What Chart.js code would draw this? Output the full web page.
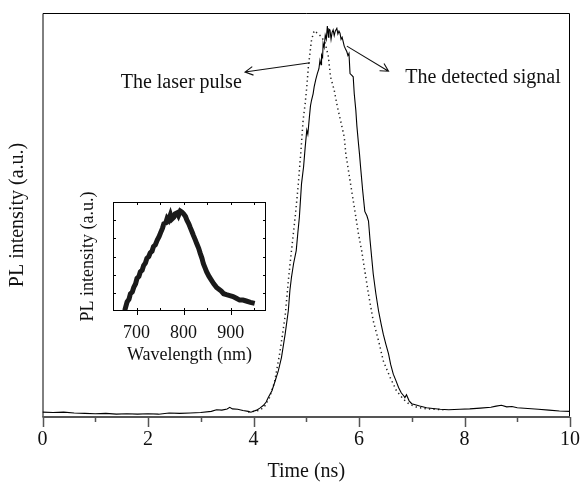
<!DOCTYPE html>
<html>
<head>
<meta charset="utf-8">
<script src="https://cdn.jsdelivr.net/npm/chart.js@4.4.1/dist/chart.umd.min.js"></script>
<style>
    html, body { margin: 0; padding: 0; background: #fff; }
    #wrap { position: relative; width: 581px; height: 484px; }
    #mainChart { position: absolute; left: 0; top: 0; }
    #insetChart { position: absolute; left: 60px; top: 190px; }
</style>
</head>
<body>
<div id="wrap">
    <canvas id="mainChart" width="581" height="484"></canvas>
    <canvas id="insetChart" width="220" height="180"></canvas>
</div>
<script>
// detected signal (solid)
const signalTime = [0, 0.2, 0.4, 0.6, 0.8, 1.0, 1.2, 1.4, 1.6, 1.8, 2.0, 2.2, 2.4, 2.6, 2.8, 3.0, 3.2, 3.3, 3.4, 3.5,
    3.55, 3.6, 3.7, 3.8, 3.9, 3.95, 4.0, 4.06, 4.12, 4.19, 4.24, 4.28, 4.35, 4.41, 4.47, 4.53, 4.6, 4.66, 4.69, 4.72,
    4.76, 4.81, 4.84, 4.87, 4.91, 4.95, 4.98, 5.01, 5.03, 5.06, 5.08, 5.1, 5.13, 5.15, 5.18, 5.21, 5.24, 5.26, 5.28, 5.29,
    5.31, 5.32, 5.34, 5.36, 5.38, 5.4, 5.42, 5.43, 5.45, 5.47, 5.49, 5.51, 5.53, 5.55, 5.58, 5.6, 5.62, 5.64, 5.66, 5.68,
    5.7, 5.72, 5.74, 5.77, 5.79, 5.81, 5.83, 5.86, 5.89, 5.91, 5.94, 5.96, 5.99, 6.01, 6.03, 6.07, 6.11, 6.15, 6.18, 6.21,
    6.27, 6.32, 6.37, 6.42, 6.46, 6.51, 6.56, 6.6, 6.65, 6.7, 6.75, 6.8, 6.85, 6.87, 6.9, 6.95, 7.0, 7.05, 7.15, 7.28,
    7.4, 7.54, 7.7, 7.91, 8.1, 8.3, 8.5, 8.6, 8.7, 8.8, 8.9, 9.0, 9.2, 9.4, 9.6, 9.8, 10];
const signal = [0.012, 0.011, 0.012, 0.010, 0.009, 0.008, 0.009, 0.007, 0.008, 0.007, 0.008, 0.007, 0.010, 0.009, 0.010, 0.011, 0.014, 0.018, 0.017, 0.020,
    0.024, 0.020, 0.019, 0.016, 0.014, 0.012, 0.014, 0.017, 0.022, 0.029, 0.037, 0.048, 0.065, 0.089, 0.114, 0.147, 0.205, 0.263, 0.313, 0.346,
    0.380, 0.412, 0.455, 0.495, 0.577, 0.620, 0.668, 0.710, 0.700, 0.743, 0.770, 0.784, 0.800, 0.817, 0.835, 0.850, 0.862, 0.883, 0.872, 0.896,
    0.890, 0.925, 0.915, 0.945, 0.935, 0.968, 0.940, 0.960, 0.958, 0.935, 0.952, 0.958, 0.944, 0.955, 0.962, 0.948, 0.955, 0.950, 0.935, 0.940,
    0.929, 0.918, 0.912, 0.904, 0.895, 0.900, 0.850, 0.846, 0.842, 0.800, 0.759, 0.720, 0.677, 0.650, 0.619, 0.560, 0.509, 0.498, 0.485, 0.437,
    0.354, 0.305, 0.263, 0.230, 0.205, 0.180, 0.156, 0.130, 0.106, 0.090, 0.073, 0.060, 0.052, 0.048, 0.055, 0.040, 0.033, 0.031, 0.027, 0.023,
    0.021, 0.019, 0.018, 0.019, 0.020, 0.022, 0.024, 0.027, 0.029, 0.025, 0.026, 0.023, 0.021, 0.019, 0.017, 0.015, 0.014];

// laser pulse (dotted)
const laserTime = [3.9, 4.1, 4.2, 4.3, 4.4, 4.5, 4.6, 4.66, 4.72, 4.79, 4.85, 4.9, 4.94, 4.98, 5.01, 5.04, 5.07, 5.1,
    5.15, 5.21, 5.29, 5.36, 5.42, 5.46, 5.53, 5.59, 5.65, 5.72, 5.75, 5.8, 5.84, 5.89, 5.94, 5.99, 6.05, 6.11,
    6.18, 6.27, 6.37, 6.46, 6.59, 6.71, 6.84, 6.95, 7.1, 7.3, 7.6];
const laser = [0.012, 0.016, 0.024, 0.047, 0.087, 0.160, 0.250, 0.337, 0.412, 0.495, 0.577, 0.660, 0.734, 0.776, 0.817, 0.867, 0.900, 0.933,
    0.956, 0.950, 0.941, 0.925, 0.892, 0.842, 0.809, 0.768, 0.734, 0.693, 0.652, 0.610, 0.577, 0.536, 0.495, 0.453, 0.412, 0.362,
    0.304, 0.238, 0.189, 0.139, 0.098, 0.065, 0.044, 0.032, 0.024, 0.020, 0.018];

// inset spectrum
const wavelength = [675, 680, 684, 687, 691, 694, 698, 701, 705, 708, 712, 715, 719, 722, 726, 729, 733, 736, 740, 744,
    748, 751, 755, 758, 762, 765, 768, 772, 775, 779, 782, 786, 789, 793, 796, 800, 804, 807, 811, 814,
    818, 821, 825, 828, 832, 835, 839, 842, 846, 849, 854, 859, 864, 870, 875, 880, 885, 891, 898, 905,
    912, 919, 926, 933, 942, 951];
const spectrum = [0.007, 0.10, 0.13, 0.19, 0.21, 0.26, 0.30, 0.36, 0.38, 0.43, 0.45, 0.50, 0.53, 0.58, 0.60, 0.64, 0.66, 0.71, 0.73, 0.78,
    0.82, 0.86, 0.91, 0.96, 0.97, 1.02, 1.00, 1.06, 1.01, 1.03, 1.07, 1.08, 1.05, 1.10, 1.09, 1.07, 1.04, 1.00, 0.96, 0.92,
    0.87, 0.83, 0.78, 0.74, 0.69, 0.64, 0.58, 0.52, 0.47, 0.43, 0.38, 0.34, 0.30, 0.26, 0.24, 0.22, 0.19, 0.18, 0.17, 0.16,
    0.14, 0.12, 0.12, 0.11, 0.095, 0.084];

const timeLabels = [0, 2, 4, 6, 8, 10];
const waveLabels = [700, 800, 900];

// annotation anchors in data units (time, intensity)
const notes = [
    { text: "The laser pulse", at: [2.63, 0.814], from: [5.07, 0.877], to: [3.84, 0.854] },
    { text: "The detected signal", at: [8.35, 0.827], from: [5.77, 0.918], to: [6.56, 0.856] }
];

const serif = "'Liberation Serif', 'DejaVu Serif', serif";

function pairs(xs, ys) {
    const out = [];
    for (let i = 0; i < xs.length; i++) {
        out.push({ x: xs[i], y: ys[i] });
    }
    return out;
}

const mainFrame = {
    id: "mainFrame",
    afterDatasetsDraw(chart) {
        const { ctx, chartArea: a, scales: { x, y } } = chart;
        ctx.save();
        ctx.strokeStyle = "#000";
        ctx.lineWidth = 1;
        ctx.beginPath();
        ctx.moveTo(a.left + 0.5, a.bottom);
        ctx.lineTo(a.left + 0.5, a.top + 0.5);
        ctx.lineTo(a.right - 0.5, a.top + 0.5);
        ctx.lineTo(a.right - 0.5, a.bottom);
        ctx.stroke();

        ctx.strokeStyle = "#555";
        ctx.lineWidth = 2;
        ctx.beginPath();
        ctx.moveTo(a.left, a.bottom);
        ctx.lineTo(a.right, a.bottom);
        ctx.stroke();
        ctx.beginPath();
        x.ticks.forEach(t => {
            const px = Math.round(x.getPixelForValue(t.value)) + 0.5;
            const len = timeLabels.includes(t.value) ? 10 : 5;
            ctx.moveTo(px, a.bottom);
            ctx.lineTo(px, a.bottom + len);
        });
        ctx.lineWidth = 1.5;
        ctx.stroke();

        ctx.strokeStyle = "#111";
        ctx.lineWidth = 1.1;
        ctx.fillStyle = "#111";
        ctx.font = "20px " + serif;
        ctx.textAlign = "center";
        ctx.textBaseline = "alphabetic";
        notes.forEach(n => {
            const x0 = x.getPixelForValue(n.from[0]), y0 = y.getPixelForValue(n.from[1]);
            const x1 = x.getPixelForValue(n.to[0]), y1 = y.getPixelForValue(n.to[1]);
            const ang = Math.atan2(y1 - y0, x1 - x0);
            ctx.beginPath();
            ctx.moveTo(x0, y0);
            ctx.lineTo(x1, y1);
            ctx.moveTo(x1 - 9 * Math.cos(ang - 0.5), y1 - 9 * Math.sin(ang - 0.5));
            ctx.lineTo(x1, y1);
            ctx.lineTo(x1 - 9 * Math.cos(ang + 0.5), y1 - 9 * Math.sin(ang + 0.5));
            ctx.stroke();
            ctx.fillText(n.text, x.getPixelForValue(n.at[0]), y.getPixelForValue(n.at[1]));
        });
        ctx.restore();
    }
};

const insetFrame = {
    id: "insetFrame",
    afterDatasetsDraw(chart) {
        const { ctx, chartArea: a, scales: { x, y } } = chart;
        ctx.save();
        ctx.strokeStyle = "#000";
        ctx.lineWidth = 1;
        ctx.strokeRect(a.left + 0.5, a.top + 0.5, a.right - a.left - 1, a.bottom - a.top - 1);
        ctx.beginPath();
        x.ticks.forEach(t => {
            const px = Math.round(x.getPixelForValue(t.value)) + 0.5;
            ctx.moveTo(px, a.top);
            ctx.lineTo(px, a.top + 3);
            ctx.moveTo(px, a.bottom - 3);
            ctx.lineTo(px, a.bottom + (waveLabels.includes(t.value) ? 4 : 0));
        });
        y.ticks.forEach(t => {
            if (t.value <= 0 || t.value >= 1.2) return;
            const py = Math.round(y.getPixelForValue(t.value)) + 0.5;
            ctx.moveTo(a.left, py);
            ctx.lineTo(a.left + 3, py);
            ctx.moveTo(a.right - 3, py);
            ctx.lineTo(a.right, py);
        });
        ctx.stroke();
        ctx.restore();
    }
};

function mostrarPrincipal() {
    new Chart(document.getElementById("mainChart"), {
        type: "line",
        data: {
            datasets: [
                {
                    label: "The detected signal",
                    data: pairs(signalTime, signal),
                    borderColor: "#000",
                    borderWidth: 1.1,
                    pointRadius: 0,
                    fill: false,
                    tension: 0
                },
                {
                    label: "The laser pulse",
                    data: pairs(laserTime, laser),
                    borderColor: "#222",
                    borderWidth: 1.5,
                    borderDash: [1.3, 3.2],
                    pointRadius: 0,
                    fill: false,
                    tension: 0
                }
            ]
        },
        options: {
            responsive: false,
            animation: false,
            layout: { padding: { top: 13, right: 11, left: 0, bottom: 0 } },
            plugins: { legend: { display: false }, tooltip: { enabled: false } },
            scales: {
                x: {
                    type: "linear",
                    min: 0,
                    max: 10,
                    afterFit: s => { s.height = 67; },
                    // tick marks are drawn by the plugin; tickLength only spaces the labels
                    grid: { display: false, drawTicks: true, tickLength: 11 },
                    border: { display: false },
                    ticks: {
                        stepSize: 1,
                        autoSkip: false,
                        maxRotation: 0,
                        padding: 0,
                        color: "#111",
                        font: { family: serif, size: 20 },
                        callback: v => timeLabels.includes(v) ? v : ""
                    },
                    title: {
                        display: true,
                        text: "Time (ns)",
                        color: "#111",
                        font: { family: serif, size: 20 },
                        padding: { top: 0, bottom: 0 }
                    }
                },
                y: {
                    min: 0,
                    max: 1,
                    afterFit: s => { s.width = 42.5; },
                    grid: { display: false },
                    border: { display: false },
                    ticks: { display: false },
                    title: {
                        display: true,
                        text: "PL intensity (a.u.)",
                        color: "#111",
                        font: { family: serif, size: 20 },
                        padding: { top: 6, bottom: 0 }
                    }
                }
            }
        },
        plugins: [mainFrame]
    });
}

function mostrarInset() {
    new Chart(document.getElementById("insetChart"), {
        type: "line",
        data: {
            datasets: [{
                label: "PL",
                data: pairs(wavelength, spectrum),
                borderColor: "#1a1a1a",
                borderWidth: 5,
                pointRadius: 0,
                fill: false,
                tension: 0
            }]
        },
        options: {
            responsive: false,
            animation: false,
            layout: { padding: { top: 12, right: 14, left: 0, bottom: 0 } },
            plugins: { legend: { display: false }, tooltip: { enabled: false } },
            scales: {
                x: {
                    type: "linear",
                    min: 650,
                    max: 975,
                    afterFit: s => { s.height = 59; },
                    grid: { display: false, drawTicks: false },
                    border: { display: false },
                    ticks: {
                        stepSize: 50,
                        includeBounds: false,
                        autoSkip: false,
                        maxRotation: 0,
                        padding: 11,
                        color: "#111",
                        font: { family: serif, size: 18 },
                        callback: v => waveLabels.includes(v) ? v : ""
                    },
                    title: {
                        display: true,
                        text: "Wavelength (nm)",
                        color: "#111",
                        font: { family: serif, size: 18 },
                        padding: { top: 0, bottom: 4 }
                    }
                },
                y: {
                    min: 0,
                    max: 1.2,
                    afterFit: s => { s.width = 53; },
                    grid: { display: false },
                    border: { display: false },
                    ticks: { display: false, stepSize: 0.2 },
                    title: {
                        display: true,
                        text: "PL intensity (a.u.)",
                        color: "#111",
                        font: { family: serif, size: 18 },
                        padding: { top: 17, bottom: 0 }
                    }
                }
            }
        },
        plugins: [insetFrame]
    });
}

document.addEventListener("DOMContentLoaded", mostrarPrincipal);
document.addEventListener("DOMContentLoaded", mostrarInset);
</script>
</body>
</html>
